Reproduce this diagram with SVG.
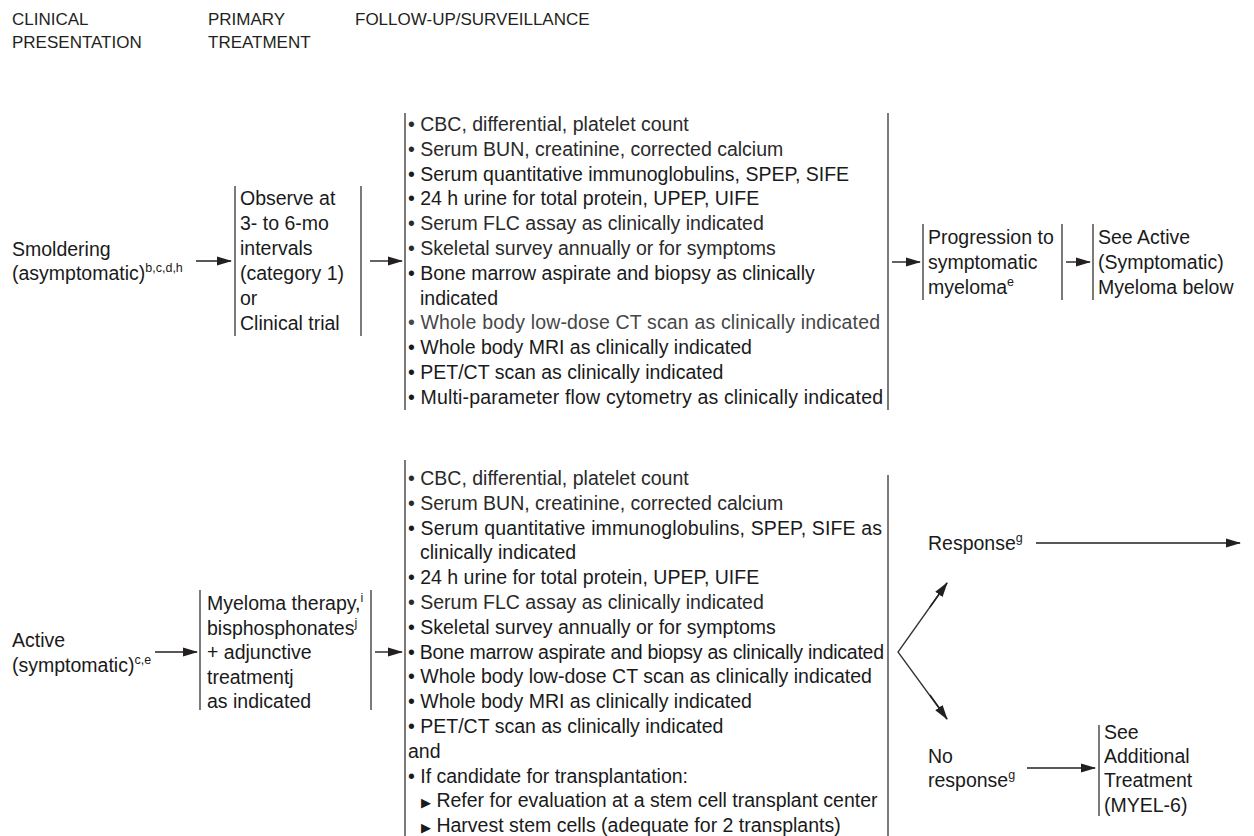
<svg xmlns="http://www.w3.org/2000/svg" width="1254" height="836" viewBox="0 0 1254 836">
<defs>
<style>
text{font-family:"Liberation Sans",Arial,sans-serif;font-size:19.5px;fill:#1a1a1a}
.g{fill:#2a2a2a}
.lg{fill:#474747}
.h{font-size:17px;fill:#231f20}
.s{font-size:12.5px}
.tri{font-family:"DejaVu Sans",sans-serif;font-size:13px}
.br{stroke:#333;stroke-width:1.3;fill:none}
.ar{stroke:#231f20;stroke-width:1.4;fill:none;marker-end:url(#ah)}
</style>
<marker id="ah" markerUnits="userSpaceOnUse" markerWidth="15" markerHeight="10" refX="14" refY="5" orient="auto">
<path d="M0,0.5 L15,5 L0,9.5 z" fill="#231f20"/>
</marker>
</defs>
<rect width="1254" height="836" fill="#fff"/>

<g id="headers">
<text class="h" x="12" y="25">CLINICAL</text>
<text class="h" x="12" y="48">PRESENTATION</text>
<text class="h" x="208" y="25">PRIMARY</text>
<text class="h" x="208" y="48">TREATMENT</text>
<text class="h" x="355" y="25">FOLLOW-UP/SURVEILLANCE</text>
</g>

<g id="smoldering">
<text x="12" y="256">Smoldering</text>
<text x="12" y="280">(asymptomatic)<tspan class="s" dy="-8">b,c,d,h</tspan></text>
</g>

<g id="observe">
<line class="br" x1="235" y1="186" x2="235" y2="336"/>
<line class="br" x1="361" y1="186" x2="361" y2="336"/>
<text x="240" y="205">Observe at</text>
<text x="240" y="230">3- to 6-mo</text>
<text x="240" y="255">intervals</text>
<text x="240" y="280">(category 1)</text>
<text x="240" y="305">or</text>
<text x="240" y="330">Clinical trial</text>
</g>

<g id="followup-smoldering">
<line class="br" x1="405" y1="113" x2="405" y2="410"/>
<line class="br" x1="888" y1="113" x2="888" y2="410"/>
<text class="g" x="408" y="131">• CBC, differential, platelet count</text>
<text class="g" x="408" y="155.8">• Serum BUN, creatinine, corrected calcium</text>
<text x="408" y="180.6">• Serum quantitative immunoglobulins, SPEP, SIFE</text>
<text x="408" y="205.4">• 24 h urine for total protein, UPEP, UIFE</text>
<text class="g" x="408" y="230.2">• Serum FLC assay as clinically indicated</text>
<text class="g" x="408" y="255">• Skeletal survey annually or for symptoms</text>
<text x="408" y="279.8">• Bone marrow aspirate and biopsy as clinically</text>
<text x="420" y="304.6">indicated</text>
<text class="lg" x="408" y="329.4" textLength="472">• Whole body low-dose CT scan as clinically indicated</text>
<text x="408" y="354.2">• Whole body MRI as clinically indicated</text>
<text x="408" y="379">• PET/CT scan as clinically indicated</text>
<text x="408" y="403.8" textLength="475">• Multi-parameter flow cytometry as clinically indicated</text>
</g>

<g id="progression">
<line class="br" x1="923" y1="224" x2="923" y2="300"/>
<line class="br" x1="1062" y1="224" x2="1062" y2="300"/>
<text x="928" y="244">Progression to</text>
<text x="928" y="269">symptomatic</text>
<text x="928" y="294">myeloma<tspan class="s" dy="-8">e</tspan></text>
</g>

<g id="see-active">
<line class="br" x1="1093" y1="224" x2="1093" y2="300"/>
<text x="1098" y="244">See Active</text>
<text x="1098" y="269">(Symptomatic)</text>
<text x="1098" y="294">Myeloma below</text>
</g>

<g id="active">
<text x="12" y="647">Active</text>
<text x="12" y="672">(symptomatic)<tspan class="s" dy="-8">c,e</tspan></text>
</g>

<g id="therapy">
<line class="br" x1="200" y1="590" x2="200" y2="710"/>
<line class="br" x1="371" y1="590" x2="371" y2="710"/>
<text x="207" y="610">Myeloma therapy,<tspan class="s" dy="-8">i</tspan></text>
<text x="207" y="634.5">bisphosphonates<tspan class="s" dy="-8">j</tspan></text>
<text x="207" y="659">+ adjunctive</text>
<text x="207" y="683.5">treatmentj</text>
<text x="207" y="708">as indicated</text>
</g>

<g id="followup-active">
<line class="br" x1="405" y1="460" x2="405" y2="836"/>
<line class="br" x1="888" y1="475" x2="888" y2="836"/>
<text class="g" x="408" y="485">• CBC, differential, platelet count</text>
<text class="g" x="408" y="509.8">• Serum BUN, creatinine, corrected calcium</text>
<text x="408" y="534.6" textLength="474">• Serum quantitative immunoglobulins, SPEP, SIFE as</text>
<text x="420" y="559.4">clinically indicated</text>
<text x="408" y="584.2">• 24 h urine for total protein, UPEP, UIFE</text>
<text class="g" x="408" y="609">• Serum FLC assay as clinically indicated</text>
<text x="408" y="633.8">• Skeletal survey annually or for symptoms</text>
<text x="408" y="658.6" textLength="476">• Bone marrow aspirate and biopsy as clinically indicated</text>
<text x="408" y="683.4">• Whole body low-dose CT scan as clinically indicated</text>
<text x="408" y="708.2">• Whole body MRI as clinically indicated</text>
<text x="408" y="733">• PET/CT scan as clinically indicated</text>
<text x="408" y="757.8">and</text>
<text x="408" y="782.6">• If candidate for transplantation:</text>
<text x="421" y="807.4"><tspan class="tri">▶</tspan> Refer for evaluation at a stem cell transplant center</text>
<text x="421" y="832.2"><tspan class="tri">▶</tspan> Harvest stem cells (adequate for 2 transplants)</text>
</g>

<g id="response">
<text x="928" y="550">Response<tspan class="s" dy="-8">g</tspan></text>
</g>

<g id="no-response">
<text x="928" y="763">No</text>
<text x="928" y="787">response<tspan class="s" dy="-8">g</tspan></text>
</g>

<g id="additional">
<line class="br" x1="1099" y1="725" x2="1099" y2="816"/>
<text x="1104" y="739">See</text>
<text x="1104" y="763">Additional</text>
<text x="1104" y="787">Treatment</text>
<text x="1104" y="812">(MYEL-6)</text>
</g>

<g id="connectors">
<line class="ar" x1="196" y1="261" x2="231" y2="261"/>
<line class="ar" x1="370" y1="261" x2="402" y2="261"/>
<line class="ar" x1="892" y1="262" x2="920" y2="262"/>
<line class="ar" x1="1066" y1="262" x2="1090" y2="262"/>
<line class="ar" x1="155" y1="652" x2="197" y2="652"/>
<line class="ar" x1="375" y1="652" x2="402" y2="652"/>
<polyline class="br" points="947,583 898,652 947,719"/>
<line class="ar" x1="930" y1="607" x2="947" y2="583"/>
<line class="ar" x1="930" y1="695" x2="947" y2="719"/>
<line class="ar" x1="1036" y1="543" x2="1240" y2="543"/>
<line class="ar" x1="1027" y1="768" x2="1095" y2="768"/>
</g>
</svg>
